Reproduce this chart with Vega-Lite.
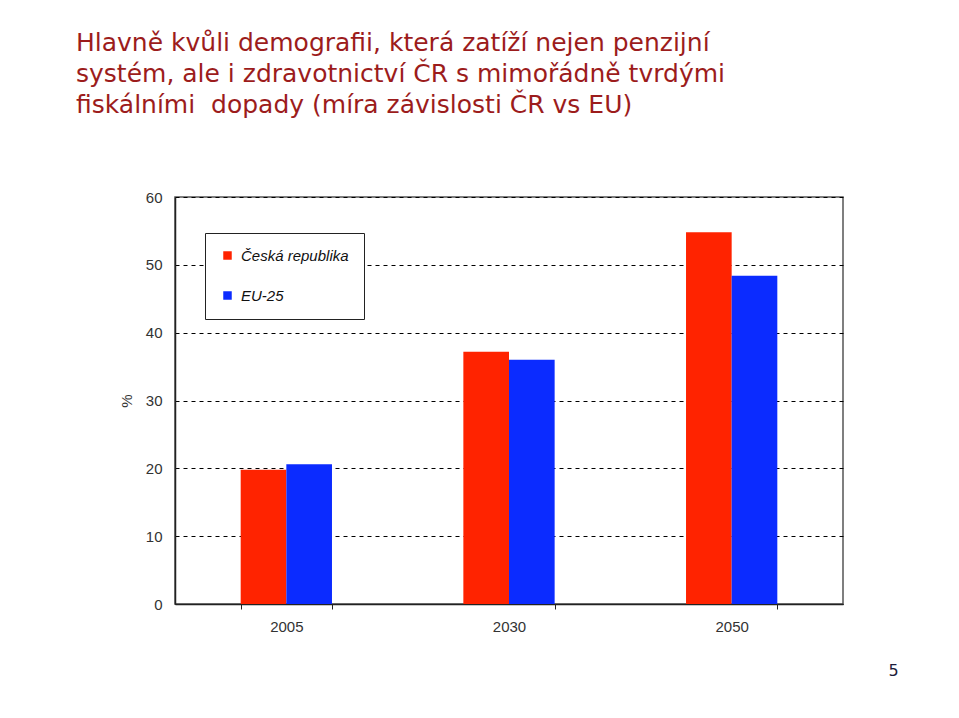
{
  "$schema": "https://vega.github.io/schema/vega-lite/v6.json",
  "width": 668,
  "height": 407,
  "autosize": {"type": "none"},
  "padding": {"left": 175, "top": 197, "right": 116, "bottom": 114},
  "background": "white",
  "title": {
    "text": ["Hlavně kvůli demografii, která zatíží nejen penzijní", "systém, ale i zdravotnictví ČR s mimořádně tvrdými", "fiskálními\u00a0 dopady (míra závislosti ČR vs EU)"],
    "anchor": "start",
    "frame": "group",
    "dx": -99,
    "offset": 72,
    "font": "DejaVu Sans",
    "fontSize": 25,
    "lineHeight": 31,
    "fontWeight": "normal",
    "color": "#9c1c1c"
  },
  "data": {
    "values": [
      {"year": "2005", "series": "Česká republika", "value": 19.8},
      {"year": "2005", "series": "EU-25", "value": 20.6},
      {"year": "2030", "series": "Česká republika", "value": 37.2},
      {"year": "2030", "series": "EU-25", "value": 36.0},
      {"year": "2050", "series": "Česká republika", "value": 54.8},
      {"year": "2050", "series": "EU-25", "value": 48.4}
    ]
  },
  "mark": {"type": "bar"},
  "encoding": {
    "x": {
      "field": "year",
      "type": "nominal",
      "scale": {"paddingInner": 0.59, "paddingOuter": 0.295},
      "axis": {
        "title": "5",
        "titleAnchor": "end",
        "titleX": 718,
        "titleY": 66,
        "titleAlign": "center",
        "titleBaseline": "middle",
        "titleFont": "DejaVu Sans",
        "titleFontSize": 16,
        "titleFontWeight": "normal",
        "titleColor": "#1c1c3c",
        "labelAngle": 0,
        "labelFont": "Liberation Sans",
        "labelFontSize": 15,
        "labelColor": "#333333",
        "labelPadding": 10,
        "tickBand": "extent",
        "tickSize": 5,
        "tickColor": "#222222",
        "domainColor": "#222222",
        "domainWidth": 1.5
      }
    },
    "xOffset": {
      "field": "series",
      "type": "nominal",
      "scale": {"domain": ["Česká republika", "EU-25"], "paddingInner": 0, "paddingOuter": 0}
    },
    "y": {
      "field": "value",
      "type": "quantitative",
      "scale": {"domain": [0, 60]},
      "axis": {
        "title": "%",
        "titleFont": "Liberation Sans",
        "titleFontSize": 15,
        "titleFontWeight": "normal",
        "titleColor": "#333333",
        "titlePadding": 11,
        "values": [0, 10, 20, 30, 40, 50, 60],
        "labelFont": "Liberation Sans",
        "labelFontSize": 15,
        "labelColor": "#333333",
        "labelPadding": 13,
        "ticks": false,
        "grid": true,
        "gridColor": "#000000",
        "gridDash": [4, 4],
        "gridOpacity": 1,
        "gridWidth": 1,
        "domainColor": "#222222",
        "domainWidth": 1.5
      }
    },
    "color": {
      "field": "series",
      "type": "nominal",
      "scale": {"domain": ["Česká republika", "EU-25"], "range": ["#ff2300", "#0b2bff"]},
      "legend": {
        "title": null,
        "orient": "none",
        "legendX": 30,
        "legendY": 36,
        "fillColor": "white",
        "strokeColor": "#222222",
        "padding": 15,
        "rowPadding": 24,
        "symbolType": "square",
        "symbolSize": 72,
        "symbolStrokeWidth": 0,
        "labelOffset": 6,
        "labelFont": "Liberation Sans",
        "labelFontSize": 15,
        "labelFontStyle": "italic",
        "labelColor": "#111111"
      }
    }
  },
  "config": {
    "view": {"stroke": "#555555", "strokeWidth": 1.5}
  }
}
